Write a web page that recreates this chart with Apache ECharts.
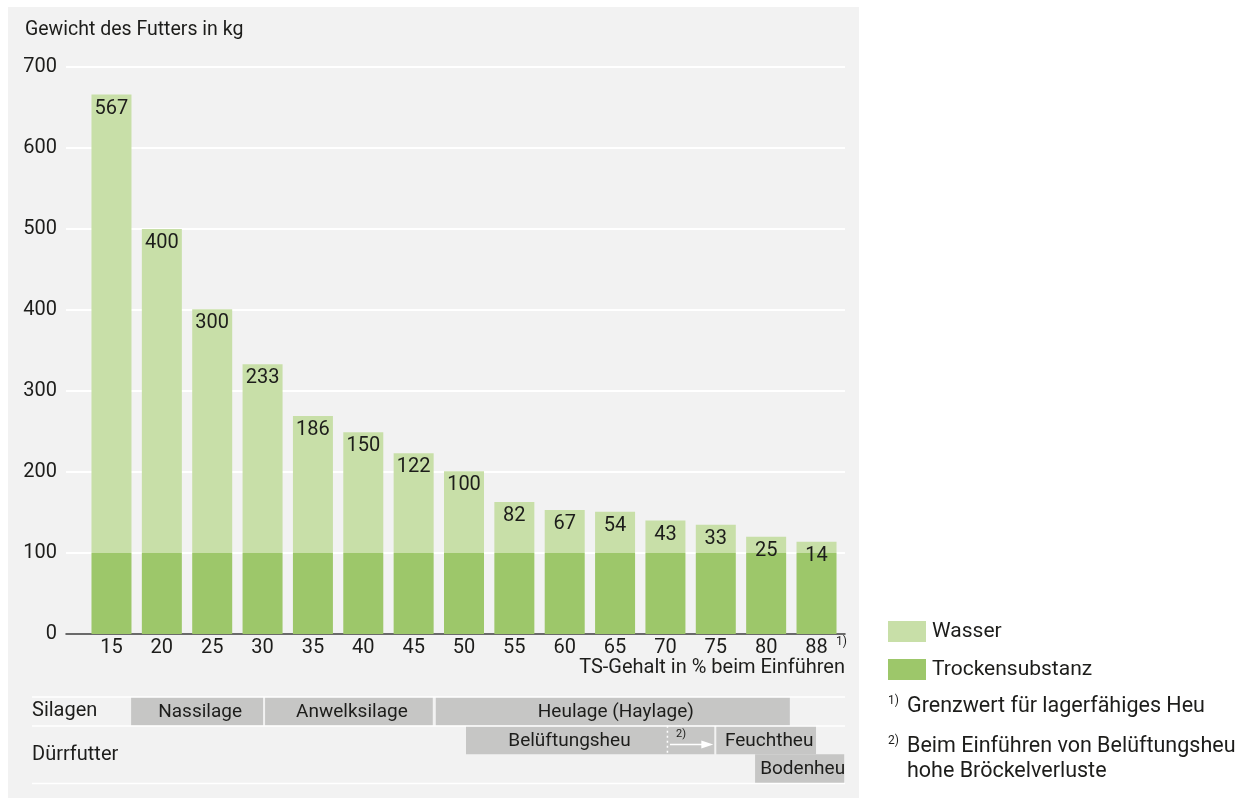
<!DOCTYPE html>
<html>
<head>
<meta charset="utf-8">
<script src="https://cdn.jsdelivr.net/npm/echarts@6/dist/echarts.min.js"></script>
<style>
html,body{margin:0;padding:0;background:#fff;}
#c{width:1247px;height:798px;}
</style>
</head>
<body>
<div id="c"></div>
<script>
// ---- data ----
const categories = ['15','20','25','30','35','40','45','50','55','60','65','70','75','80','88'];
const trocken = [100,100,100,100,100,100,100,100,100,100,100,100,100,100,100];
// water portion as drawn (bar heights)
const wasser  = [566,400,301,233,169,149,123,101,63,53,51,40,35,20,14];
// water labels as printed on the bars
const wasserLabels = ['567','400','300','233','186','150','122','100','82','67','54','43','33','25','14'];
const yTicks = [0,100,200,300,400,500,600,700];

// bands below the chart, in category-index units
const bandLabels = ['Nassilage','Anwelksilage','Heulage (Haylage)','Belüftungsheu','','Feuchtheu','Bodenheu'];
const bandStart  = [0.39, 3.05, 6.44, 7.04, 11.03, 12.01, 12.78];
const bandEnd    = [3.01, 6.38, 13.47, 11.03, 11.97, 13.99, 14.55];
const bandRow    = [0, 0, 0, 1, 1, 1, 2];
const bandArrow  = [0, 0, 0, 0, 1, 0, 0];

const FONT = '"Liberation Sans Narrow", "Roboto", sans-serif';
const TXT = '#1d1d1b';
const GREY = '#c6c6c5';

const chart = echarts.init(document.getElementById('c'), null, {renderer:'canvas'});

const bandData = bandLabels.map((n,i)=>({name:n, value:[bandStart[i], bandEnd[i], bandRow[i], bandArrow[i]]}));

function renderBand(params, api){
  const s = api.coord([api.value(0), api.value(2)]);
  const e = api.coord([api.value(1), api.value(2)+1]);
  const x = s[0], y = s[1], w = e[0]-s[0], h = e[1]-s[1];
  const name = bandLabels[params.dataIndex];
  const children = [{
    type:'rect', shape:{x:x, y:y, width:w, height:h}, style:{fill:GREY}
  }];
  if (api.value(3) === 1) {
    const my = y + h*0.66;
    children.push({type:'line', shape:{x1:x+0.5, y1:y, x2:x+0.5, y2:y+h}, style:{stroke:'#fff', lineWidth:1.5, lineDash:[2,3]}});
    children.push({type:'line', shape:{x1:x+3, y1:my, x2:x+w-12, y2:my}, style:{stroke:'#fff', lineWidth:1.5}});
    children.push({type:'polygon', shape:{points:[[x+w-13,my-4],[x+w-1,my],[x+w-13,my+4]]}, style:{fill:'#fff'}});
    children.push({type:'text', style:{text:'2)', x:x+9, y:y+3, fontSize:11, fontFamily:FONT, fill:TXT}});
  } else {
    children.push({type:'text', style:{text:name, x:x+w/2 + 3, y:y+h/2+1, align:'center', verticalAlign:'middle', fontSize:19, fontFamily:FONT, fill:TXT}});
  }
  return {type:'group', children:children};
}

const option = {
  backgroundColor:'#fff',
  animation:false,
  textStyle:{fontFamily:FONT},
  grid:[
    {left:66, right:1247-845, top:67, bottom:798-634},
    {left:86.3, right:1247-841.7, top:67, bottom:798-634},
    {left:86.3, right:1247-841.7, top:697, bottom:798-783}
  ],
  xAxis:[
    {gridIndex:0, type:'value', min:0, max:1, axisLine:{show:true, lineStyle:{color:'#3a3a3a', width:1.5}}, axisTick:{show:false}, axisLabel:{show:false}, splitLine:{show:false}},
    {gridIndex:1, type:'category', data:categories, axisLine:{show:false}, axisTick:{show:false},
      axisLabel:{color:TXT, fontSize:20, fontFamily:FONT, margin:4, interval:0}},
    {gridIndex:2, type:'value', min:-0.5, max:14.5, show:false}
  ],
  yAxis:[
    {gridIndex:0, type:'value', min:yTicks[0], max:yTicks[yTicks.length-1], interval:100,
      axisLine:{show:false}, axisTick:{show:false},
      axisLabel:{color:TXT, fontSize:20, fontFamily:FONT, margin:9, align:'right'},
      splitLine:{show:true, lineStyle:{color:'#ffffff', width:2}}},
    {gridIndex:1, type:'value', min:0, max:700, show:false},
    {gridIndex:2, type:'value', min:0, max:3, inverse:true, show:false}
  ],
  legend:{
    orient:'vertical', left:888, top:621, padding:0, itemWidth:38, itemHeight:21, itemGap:17,
    icon:'rect', data:['Wasser','Trockensubstanz'],
    textStyle:{fontSize:21, color:TXT, fontFamily:FONT, padding:[0,0,0,1]}
  },
  series:[
    {name:'Trockensubstanz', type:'bar', stack:'a', xAxisIndex:1, yAxisIndex:1, data:trocken, barWidth:40,
      itemStyle:{color:'#9dc76a'}},
    {name:'Wasser', type:'bar', stack:'a', xAxisIndex:1, yAxisIndex:1, data:wasser, barWidth:40,
      itemStyle:{color:'#c8dfa8'},
      label:{show:true, position:'insideTop', distance:4, color:TXT, fontSize:20, fontFamily:FONT,
        formatter:(p)=>wasserLabels[p.dataIndex]}},
    {name:'bands', type:'custom', xAxisIndex:2, yAxisIndex:2, data:bandData, renderItem:renderBand, clip:false,
      encode:{x:[0,1], y:2}, silent:true}
  ],
  graphic:[
    {type:'rect', z:-10, shape:{x:8, y:7, width:851, height:791}, style:{fill:'#f2f2f2'}},
    {type:'text', left:25, top:20, style:{text:'Gewicht des Futters in kg', fontSize:19.5, fontFamily:FONT, fill:TXT}},
    {type:'text', x:845, y:668, style:{text:'TS-Gehalt in % beim Einführen', align:'right', verticalAlign:'middle', fontSize:20, fontFamily:FONT, fill:TXT}},
    {type:'text', x:836, y:636, style:{text:'1)', fontSize:12, fontFamily:FONT, fill:TXT}},
    {type:'text', x:32, y:711, style:{text:'Silagen', verticalAlign:'middle', fontSize:20, fontFamily:FONT, fill:TXT}},
    {type:'text', x:32, y:755, style:{text:'Dürrfutter', verticalAlign:'middle', fontSize:20, fontFamily:FONT, fill:TXT}},
    {type:'line', z:100, shape:{x1:32, y1:697, x2:845, y2:697}, style:{stroke:'#fff', lineWidth:1.5}},
    {type:'line', z:100, shape:{x1:32, y1:726, x2:845, y2:726}, style:{stroke:'#fff', lineWidth:1.5}},
    {type:'line', z:100, shape:{x1:32, y1:783.5, x2:845, y2:783.5}, style:{stroke:'#fff', lineWidth:1.5}},
    {type:'text', x:888, y:695, style:{text:'1)', fontSize:12, fontFamily:FONT, fill:TXT}},
    {type:'text', x:907, y:707, style:{text:'Grenzwert für lagerfähiges Heu', verticalAlign:'middle', fontSize:21.5, fontFamily:FONT, fill:TXT}},
    {type:'text', x:888, y:735, style:{text:'2)', fontSize:12, fontFamily:FONT, fill:TXT}},
    {type:'text', x:907, y:747, style:{text:'Beim Einführen von Belüftungsheu', verticalAlign:'middle', fontSize:21.5, fontFamily:FONT, fill:TXT}},
    {type:'text', x:907, y:772, style:{text:'hohe Bröckelverluste', verticalAlign:'middle', fontSize:21.5, fontFamily:FONT, fill:TXT}}
  ]
};
chart.setOption(option);
</script>
</body>
</html>
